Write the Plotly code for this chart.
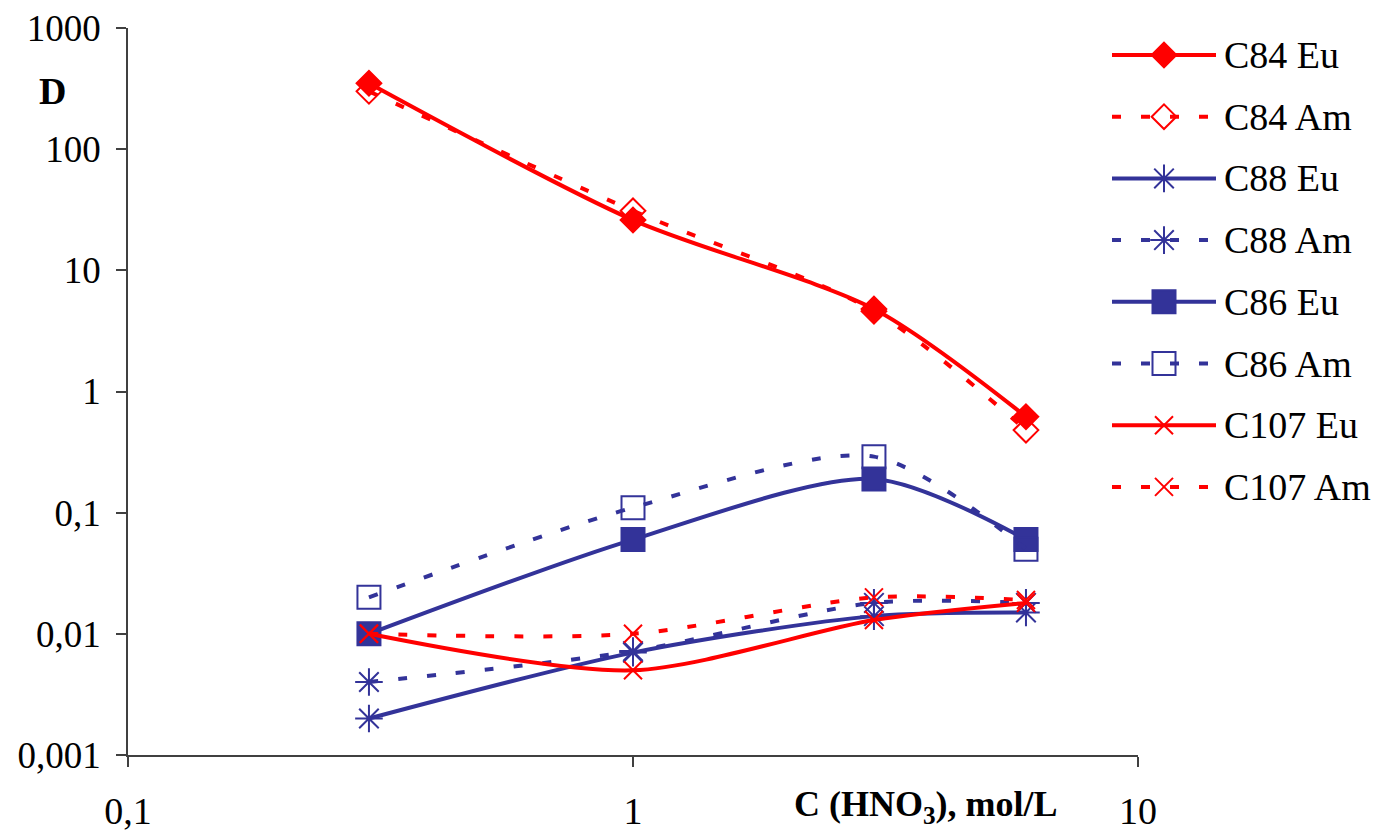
import plotly.graph_objects as go

# HNO3 concentration, mol/L
conc = [0.3, 1, 3, 6]

# Distribution ratios D
c84_eu = [350, 26, 4.8, 0.62]
c84_am = [300, 31, 4.6, 0.48]
c88_eu = [0.002, 0.007, 0.014, 0.015]
c88_am = [0.004, 0.0072, 0.018, 0.018]
c86_eu = [0.01, 0.06, 0.19, 0.06]
c86_am = [0.02, 0.11, 0.29, 0.05]
c107_eu = [0.01, 0.005, 0.013, 0.018]
c107_am = [0.01, 0.01, 0.02, 0.019]

x_ticks = [0.1, 1, 10]
x_tick_text = ["0,1", "1", "10"]
y_ticks = [0.001, 0.01, 0.1, 1, 10, 100, 1000]
y_tick_text = ["0,001", "0,01", "0,1", "1", "10", "100", "1000"]

RED = "#FF0000"
BLUE = "#333399"
DASH = "9px,20px"
FONT = "Liberation Serif, Times New Roman, serif"

series = [
    ("C84 Eu", c84_eu, RED, "solid", "diamond", 19),
    ("C84 Am", c84_am, RED, DASH, "diamond-open", 19),
    ("C88 Eu", c88_eu, BLUE, "solid", "asterisk-open", 23),
    ("C88 Am", c88_am, BLUE, DASH, "asterisk-open", 23),
    ("C86 Eu", c86_eu, BLUE, "solid", "square", 23),
    ("C86 Am", c86_am, BLUE, DASH, "square-open", 23),
    ("C107 Eu", c107_eu, RED, "solid", "x-thin-open", 18),
    ("C107 Am", c107_am, RED, DASH, "x-thin-open", 18),
]

W, H = 1382, 833
L, R, T, B = 128, 10, 28, 78
plot_w = W - L - R
plot_h = H - T - B
x_end = 1138  # right end of the data axis, px

fig = go.Figure()

for name, vals, color, dash, symbol, size in series:
    fig.add_trace(go.Scatter(
        x=conc, y=vals, name=name, mode="lines+markers",
        line=dict(color=color, width=4, dash=dash, shape="spline", smoothing=0.8),
        marker=dict(symbol=symbol, size=size, color=color,
                    line=dict(color=color, width=2)),
        showlegend=False, xaxis="x", yaxis="y",
    ))

# Legend drawn on its own small axis pair: one row per series
row_top, row_gap = 55, 61.7
y2_range = [(H - B - row_top) / row_gap, (T - row_top) / row_gap]
for i, (name, vals, color, dash, symbol, size) in enumerate(series):
    fig.add_trace(go.Scatter(
        x=[0, 0.5, 1], y=[i, i, i], mode="lines", showlegend=False,
        line=dict(color=color, width=4, dash=dash),
        xaxis="x2", yaxis="y2", hoverinfo="skip",
    ))
    fig.add_trace(go.Scatter(
        x=[0.5], y=[i], mode="markers", showlegend=False,
        marker=dict(symbol=symbol, size=size, color=color,
                    line=dict(color=color, width=2)),
        xaxis="x2", yaxis="y2", hoverinfo="skip",
    ))
    fig.add_annotation(
        x=(1222 - L) / plot_w, y=i, xref="paper", yref="y2",
        text=name, showarrow=False, xanchor="left", yanchor="middle",
        font=dict(family=FONT, size=38, color="black"),
    )

axis_color = "#404040"
fig.update_layout(
    width=W, height=H,
    margin=dict(l=L, r=R, t=T, b=B, autoexpand=False),
    paper_bgcolor="white", plot_bgcolor="white",
    font=dict(family=FONT, size=37, color="black"),
    xaxis=dict(
        type="log", range=[-1, 1], domain=[0, (x_end - L) / plot_w],
        tickvals=x_ticks, ticktext=x_tick_text,
        showgrid=False, zeroline=False,
        showline=True, linecolor=axis_color, linewidth=1.5,
        ticks="outside", ticklen=10, tickcolor=axis_color, tickwidth=1.5,
        tickfont=dict(family=FONT, size=38), ticklabelstandoff=12,
    ),
    yaxis=dict(
        type="log", range=[-3, 3], domain=[0, 1],
        tickvals=y_ticks, ticktext=y_tick_text,
        showgrid=False, zeroline=False,
        showline=True, linecolor=axis_color, linewidth=1.5,
        ticks="outside", ticklen=10, tickcolor=axis_color, tickwidth=1.5,
        tickfont=dict(family=FONT, size=37), ticklabelstandoff=8,
    ),
    xaxis2=dict(
        range=[0, 1], domain=[(1112 - L) / plot_w, (1216 - L) / plot_w],
        anchor="y2", visible=False, fixedrange=True,
    ),
    yaxis2=dict(
        range=y2_range, domain=[0, 1], anchor="x2",
        visible=False, fixedrange=True,
    ),
)

fig.add_annotation(
    x=(926 - L) / plot_w, y=(H - B - 806) / plot_h, xref="paper", yref="paper",
    text="<b>C (HNO<sub>3</sub>), mol/L</b>", showarrow=False,
    xanchor="center", yanchor="middle",
    font=dict(family=FONT, size=36, color="black"),
)
fig.add_annotation(
    x=(52 - L) / plot_w, y=(H - B - 91) / plot_h, xref="paper", yref="paper",
    text="<b>D</b>", showarrow=False, xanchor="center", yanchor="middle",
    font=dict(family=FONT, size=38, color="black"),
)

fig.write_html("out.html")
